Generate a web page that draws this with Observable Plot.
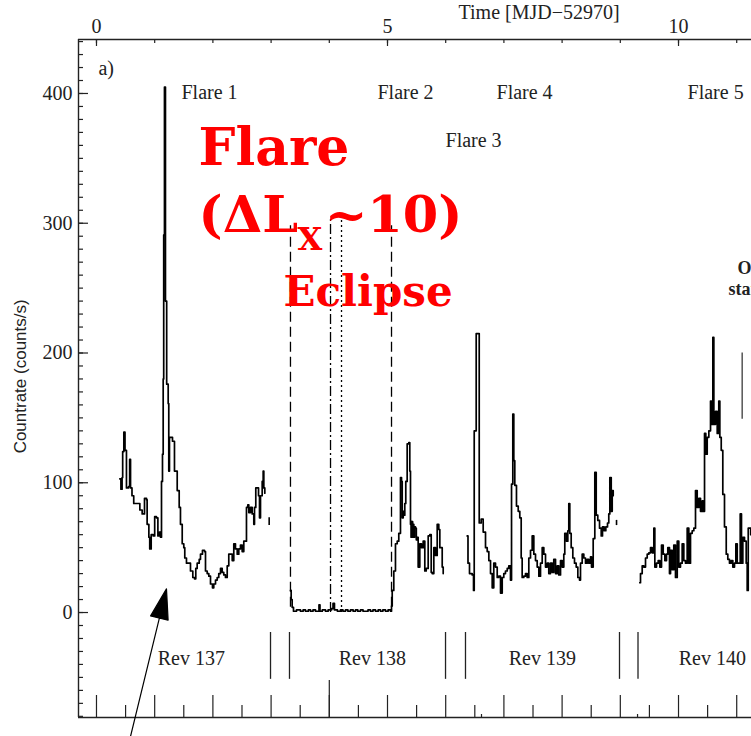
<!DOCTYPE html>
<html><head><meta charset="utf-8">
<script src="https://cdn.jsdelivr.net/npm/d3@7"></script>
<script src="https://cdn.jsdelivr.net/npm/@observablehq/plot@0.6"></script>
<style>html,body{margin:0;padding:0;background:#fff;overflow:hidden}#chart svg{display:block}</style>
</head><body><div id="chart"></div>
<script>
// ---- Light-curve data: time [MJD-52970] and countrate (counts/s) ----
const rev137Day = [0.40,0.42,0.44,0.45,0.47,0.49,0.515,0.55,0.57,0.585,0.61,0.64,0.70,0.745,0.785,0.825,0.86,0.87,0.90,0.915,0.94,0.975,1.00,1.03,1.055,1.08,1.10,1.117,1.134,1.146,1.155,1.168,1.185,1.206,1.232,1.242,1.254,1.306,1.34,1.357,1.387,1.421,1.443,1.473,1.50,1.517,1.546,1.586,1.615,1.655,1.684,1.706,1.73,1.765,1.787,1.821,1.856,1.873,1.902,1.93,1.959,1.993,2.015,2.045,2.074,2.101,2.131,2.16,2.187,2.216,2.246,2.273,2.302,2.332,2.359,2.388,2.418,2.445,2.474,2.503,2.531,2.577,2.60,2.617,2.646,2.675,2.703,2.715,2.737,2.761,2.784,2.801,2.818,2.847,2.864,2.875,2.892];
const rev137Rate = [103,95,104,124,139,125,96,97,118,96,90,84,84,79,76,88,87,68,58,49,60,59,74,73,59,62,58,101,122,180,291,405,240,176,161,109,135,132,109,109,94,81,68,53,50,42,38,38,32,27,26,34,38,41,45,48,47,32,30,28,22,19,22,25,27,30,34,31,29,27,36,45,45,40,53,49,45,49,52,47,55,81,83,77,81,76,68,81,96,96,90,73,90,101,109,96,92];

const rev138Day = [3.333,3.345,3.362,3.385,3.436,3.505,3.55,3.591,3.64,3.677,3.72,3.763,3.823,3.84,3.88,3.935,3.98,4.038,4.064,4.089,4.14,4.192,4.235,4.278,4.32,4.364,4.41,4.45,4.49,4.536,4.58,4.622,4.665,4.708,4.75,4.794,4.84,4.88,4.92,4.966,5.01,5.052,5.069,5.081,5.108,5.137,5.167,5.194,5.223,5.241,5.253,5.27,5.28,5.297,5.314,5.338,5.366,5.383,5.395,5.405,5.41,5.418,5.424,5.432,5.44,5.452,5.465,5.481,5.495,5.51,5.527,5.555,5.584,5.613,5.641,5.665,5.699,5.727,5.751,5.768,5.796,5.825,5.854,5.881,5.899,5.923,5.94,5.957];
const rev138Rate = [17,10,4,1,2,1,2,1,2,1,2,1,6,1,2,1,2,3,7,2,1,2,1,2,1,2,1,2,1,2,1,1,2,1,2,1,2,1,2,1,2,1,5,17,32,53,55,61,104,101,73,78,75,84,101,130,131,109,68,58,70,60,70,58,68,58,66,65,56,58,35,53,50,55,32,34,59,60,31,30,50,44,68,64,50,50,35,30];

const rev139Day = [6.369,6.383,6.409,6.455,6.478,6.49,6.524,6.576,6.61,6.644,6.684,6.713,6.741,6.77,6.799,6.826,6.856,6.885,6.912,6.942,6.971,6.998,7.027,7.057,7.084,7.113,7.131,7.153,7.17,7.187,7.216,7.246,7.273,7.297,7.314,7.342,7.371,7.40,7.428,7.457,7.486,7.514,7.543,7.572,7.60,7.629,7.658,7.686,7.715,7.744,7.771,7.801,7.83,7.857,7.887,7.916,7.943,7.973,8.002,8.029,8.046,8.076,8.098,8.115,8.132,8.156,8.184,8.213,8.242,8.27,8.299,8.316,8.345,8.373,8.402,8.431,8.459,8.488,8.505,8.534,8.562,8.586,8.613,8.643,8.672,8.694,8.723,8.751,8.78,8.802,8.82,8.844,8.861,8.878];
const rev139Rate = [59,38,30,29,17,140,215,69,72,62,50,47,40,30,19,38,35,27,28,15,27,30,32,34,36,25,99,153,117,98,82,78,73,42,27,28,30,27,42,48,59,45,40,35,28,38,50,45,35,38,30,38,31,41,30,36,29,40,35,45,61,55,63,84,61,50,42,38,35,27,25,38,45,42,38,41,38,43,35,57,108,75,71,65,59,66,63,66,69,76,104,78,94,90];

const rev140Day = [9.335,9.347,9.376,9.404,9.433,9.462,9.49,9.519,9.548,9.576,9.593,9.622,9.651,9.679,9.708,9.737,9.765,9.794,9.816,9.845,9.863,9.892,9.919,9.948,9.978,10.005,10.034,10.063,10.091,10.12,10.149,10.177,10.206,10.235,10.263,10.292,10.321,10.349,10.378,10.407,10.424,10.447,10.469,10.493,10.521,10.55,10.567,10.59,10.607,10.636,10.665,10.692,10.71,10.734,10.761,10.79,10.82,10.847,10.876,10.905,10.933,10.962,10.985,11.009,11.036,11.06,11.082,11.105,11.134,11.163,11.18,11.198,11.24,11.3];
const rev140Rate = [23,30,36,35,42,45,46,50,46,65,35,38,40,35,52,45,40,45,50,30,48,33,52,27,55,35,38,53,40,38,65,38,61,63,65,94,81,88,78,86,78,138,122,135,140,163,145,212,145,155,138,163,135,125,91,66,45,41,38,40,35,38,53,38,38,76,38,58,55,38,17,65,60,50];

// isolated single bins
const strayDay = [2.967, 8.935];
const strayLow = [67, 67];
const strayHigh = [73, 71];

// ---- Annotations ----
const flareNames = ["Flare 1", "Flare 2", "Flare 3", "Flare 4", "Flare 5"];
const flareDay = [1.46, 4.828, 5.997, 6.873, 10.155];
const flareRate = [396, 396, 359, 396, 396];

const revNames = ["Rev 137", "Rev 138", "Rev 139", "Rev 140"];
const revCenterDay = [1.63, 4.74, 7.66, 10.58];
const revBoundaryDay = [2.99, 3.316, 5.997, 6.34, 8.986, 9.304];

const eclipseDashedDay = [3.333, 5.069];
const eclipseDashDotDay = [4.021];
const eclipseDottedDay = [4.21];
const obsStartDay = [11.094];

// ---- Axes ----
const xDomain = [-0.309, 11.254];
const yDomain = [-80.9, 441.6];
const topTickLabels = [0, 5, 10];
const topTicks = [0,1,2,3,4,5,6,7,8,9,10,11];
const yTickLabels = [0, 100, 200, 300, 400];
const yMinorTicks = d3.range(-80, 441, 10);
const bottomIntTicks = [0,1,2,3,4,5,6,7,8,9,10,11];
const bottomHalfTicks = [0.5,1.5,2.5,3.5,4.5,5.5,6.5,7.5,8.5,9.5,10.5];
const bottomTallTicks = [4];
const bottomTinyTicks = [6.615, 9.296];

const W = 751, H = 736, mTop = 39, mLeft = 78, mBottom = 19;
const frameW = W - mLeft, frameH = H - mTop - mBottom;
const ink = "#222";
const serif = "'Liberation Serif', 'Times New Roman', serif";
const redFont = "'DejaVu Serif', serif";

const arrowShape = {
  draw(context, l) {
    const hl = 30, hw = 9;
    context.moveTo(0, 0);
    context.lineTo(0, -(l - hl));
    context.moveTo(0, -l);
    context.lineTo(-hw, -(l - hl));
    context.lineTo(hw, -(l - hl));
    context.closePath();
  }
};

const curve = {x: "day", y: "rate", curve: "step-after", stroke: "#000", strokeWidth: 1.7};
const seg = (d, r) => d.map((v, i) => ({day: v, rate: r[i]}));

const chart = Plot.plot({
  width: W, height: H,
  marginTop: mTop, marginLeft: mLeft, marginBottom: mBottom, marginRight: 0,
  x: {domain: xDomain},
  y: {domain: yDomain},
  style: {fontFamily: serif, fontSize: "20px", color: ink, background: "#fff"},
  marks: [
    // axes lines
    Plot.ruleX([xDomain[0]], {stroke: ink, strokeWidth: 1.4}),
    Plot.ruleY([yDomain[0]], {stroke: ink, strokeWidth: 1.4}),
    Plot.ruleY([yDomain[1]], {stroke: ink, strokeWidth: 1.4}),
    // left ticks
    Plot.tickY(yMinorTicks, {y: d => d, stroke: ink, strokeWidth: 1.2, insetRight: frameW - 5}),
    Plot.tickY(yTickLabels, {y: d => d, stroke: ink, strokeWidth: 1.2, insetRight: frameW - 10}),
    Plot.axisY(yTickLabels, {anchor: "left", tickSize: 0, tickPadding: 6, label: null}),
    // top ticks
    Plot.tickX(topTicks, {x: d => d, stroke: ink, strokeWidth: 1.2, insetBottom: frameH - 4}),
    Plot.tickX(topTickLabels, {x: d => d, stroke: ink, strokeWidth: 1.2, insetBottom: frameH - 7}),
    Plot.axisX(topTickLabels, {anchor: "top", tickSize: 0, tickPadding: 7, label: null}),
    // bottom ticks
    Plot.tickX(bottomIntTicks, {x: d => d, stroke: ink, strokeWidth: 1.2, insetTop: frameH - 22}),
    Plot.tickX(bottomHalfTicks, {x: d => d, stroke: ink, strokeWidth: 1.2, insetTop: frameH - 12}),
    Plot.tickX(bottomTallTicks, {x: d => d, stroke: ink, strokeWidth: 1.2, insetTop: frameH - 37}),
    Plot.tickX(bottomTinyTicks, {x: d => d, stroke: ink, strokeWidth: 1.2, insetTop: frameH - 3}),
    // titles
    Plot.text(["Time [MJD\u221252970]"], {x: 6.22, frameAnchor: "top", dy: -21, textAnchor: "start", lineAnchor: "bottom", fill: ink}),
    Plot.text(["Countrate (counts/s)"], {frameAnchor: "left", dx: -58, y: 182, rotate: -90, textAnchor: "middle", fontFamily: "'Liberation Sans', Arial, sans-serif", fontSize: 17, fill: ink}),
    Plot.text(["a)"], {x: 0.034, y: 414.6, textAnchor: "start", lineAnchor: "bottom", fill: ink}),
    // revolution markers
    Plot.ruleX(revBoundaryDay, {y1: -15.4, y2: -51.5, stroke: ink, strokeWidth: 1.3}),
    Plot.text(revNames, {x: revCenterDay, y: -35.4, fill: ink}),
    // eclipse lines
    Plot.ruleX(eclipseDashedDay, {y1: 4, y2: 298, stroke: "#000", strokeWidth: 1.3, strokeDasharray: "10,5"}),
    Plot.ruleX(eclipseDashDotDay, {y1: 0, y2: 305, stroke: "#000", strokeWidth: 1.3, strokeDasharray: "10,3,2,3"}),
    Plot.ruleX(eclipseDottedDay, {y1: 0, y2: 303, stroke: "#000", strokeWidth: 1.3, strokeDasharray: "2,3"}),
    Plot.ruleX(obsStartDay, {y1: 149, y2: 200, stroke: "#555", strokeWidth: 1.5}),
    // light curve
    Plot.line(seg(rev137Day, rev137Rate), curve),
    Plot.line(seg(rev138Day, rev138Rate), curve),
    Plot.line(seg(rev139Day, rev139Rate), curve),
    Plot.line(seg(rev140Day, rev140Rate), curve),
    Plot.ruleX(strayDay, {y1: strayLow, y2: strayHigh, stroke: "#000", strokeWidth: 1.6}),
    // flare labels
    Plot.text(flareNames, {x: flareDay, y: flareRate, textAnchor: "start", lineAnchor: "bottom", fill: ink}),
    Plot.text(["Obs."], {x: 11.014, y: 260.5, textAnchor: "start", lineAnchor: "bottom", fontWeight: "bold", fontSize: 18, fill: ink}),
    Plot.text(["start"], {x: 10.859, y: 245.0, textAnchor: "start", lineAnchor: "bottom", fontWeight: "bold", fontSize: 18, fill: ink}),
    // red annotation
    Plot.text(["Flare"], {x: 1.753, y: 344.5, textAnchor: "start", lineAnchor: "bottom", fontFamily: redFont, fontWeight: "bold", fontSize: 52, fill: "#f00"}),
    Plot.text(["(\u0394L"], {x: 1.753, y: 292.9, textAnchor: "start", lineAnchor: "bottom", fontFamily: redFont, fontWeight: "bold", fontSize: 51, fill: "#f00"}),
    Plot.text(["X"], {x: 3.454, y: 279, textAnchor: "start", lineAnchor: "bottom", fontFamily: redFont, fontWeight: "bold", fontSize: 32, fill: "#f00"}),
    Plot.text(["~10)"], {x: 3.92, y: 292.9, textAnchor: "start", lineAnchor: "bottom", fontFamily: redFont, fontWeight: "bold", fontSize: 51, fill: "#f00"}),
    Plot.text(["Eclipse"], {x: 3.213, y: 236.6, textAnchor: "start", lineAnchor: "bottom", fontFamily: redFont, fontWeight: "bold", fontSize: 42, fill: "#f00"}),
    // arrow pointing at the pre-flare dip
    Plot.vector([0], {x: 0.584, y: -95.6, length: 152, rotate: 13.7, anchor: "start", shape: arrowShape, stroke: "#000", fill: "#000", strokeWidth: 1.2})
  ]
});
document.getElementById("chart").append(chart);
</script>
</body></html>
